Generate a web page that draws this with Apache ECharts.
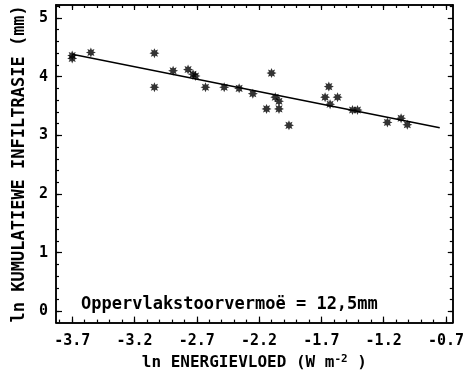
<!DOCTYPE html>
<html>
<head>
<meta charset="utf-8">
<script src="https://cdn.jsdelivr.net/npm/echarts@6/dist/echarts.min.js"></script>
<style>html,body{margin:0;padding:0;background:#fff}#c{width:467px;height:376px}</style>
</head>
<body>
<div id="c"></div>
<script>
// ---- data ----
var xValues = [-3.70, -3.70, -3.55, -3.04, -3.04, -2.89, -2.77, -2.73, -2.71, -2.63, -2.48, -2.36, -2.25, -2.10, -2.14, -2.07, -2.04, -2.04, -1.96, -1.64, -1.67, -1.57, -1.63, -1.45, -1.41, -1.17, -1.06, -1.01];
var yValues = [4.36, 4.31, 4.41, 4.40, 3.82, 4.10, 4.12, 4.04, 4.01, 3.82, 3.82, 3.80, 3.71, 4.06, 3.45, 3.65, 3.58, 3.45, 3.17, 3.83, 3.65, 3.65, 3.53, 3.43, 3.43, 3.22, 3.29, 3.18];
var fitX = [-3.70, -0.75];
var fitY = [4.38, 3.13];
var xTickLabels = [-3.7, -3.2, -2.7, -2.2, -1.7, -1.2, -0.7];
var yTickLabels = [0, 1, 2, 3, 4, 5];
var annotation = 'Oppervlakstoorvermoë = 12,5mm';

var xMin = -3.83, xMax = -0.645, yMin = -0.19, yMax = 5.22;
var xMinor = [], yMinor = [];
for (var i = 0; i <= 31; i++) { xMinor.push(Math.round((-3.8 + i * 0.1) * 10) / 10); }
for (var j = 0; j <= 26; j++) { yMinor.push(Math.round((j * 0.2) * 10) / 10); }

var FONT = 'DejaVu Sans Mono';
var lbl = { color: '#000', fontFamily: FONT, fontWeight: 'bold', fontSize: 15 };
var axLine = { show: true, onZero: false, lineStyle: { color: '#000', width: 1.5 } };

function xAx(pos, ticks, len, labels) {
  return {
    type: 'value', position: pos, min: xMin, max: xMax,
    axisLine: axLine, splitLine: { show: false },
    axisTick: { show: true, inside: true, length: len, customValues: ticks, lineStyle: { color: '#000', width: 1.2 } },
    axisLabel: labels ? Object.assign({ show: true, margin: 11, customValues: xTickLabels, formatter: function (v) { return v.toFixed(1); } }, lbl) : { show: false }
  };
}
function yAx(pos, ticks, len, labels) {
  return {
    type: 'value', position: pos, min: yMin, max: yMax,
    axisLine: axLine, splitLine: { show: false },
    axisTick: { show: true, inside: true, length: len, customValues: ticks, lineStyle: { color: '#000', width: 1.2 } },
    axisLabel: labels ? Object.assign({ show: true, margin: 8, customValues: yTickLabels }, lbl) : { show: false }
  };
}

var xAxes = [xAx('bottom', xTickLabels, 6, true), xAx('bottom', xMinor, 3, false), xAx('top', xTickLabels, 5, false), xAx('top', xMinor, 3, false)];
xAxes[0].name = '{n|ln ENERGIEVLOED (W m}{s|-2}{n| )}';
xAxes[0].nameLocation = 'middle';
xAxes[0].nameGap = 29;
xAxes[0].nameTextStyle = { rich: { n: Object.assign({}, lbl, { fontSize: 16 }), s: Object.assign({}, lbl, { fontSize: 11, verticalAlign: 'top', padding: [0, 0, 8, 0] }) } };

var yAxes = [yAx('left', yTickLabels, 6, true), yAx('left', yMinor, 3, false), yAx('right', yTickLabels, 5, false), yAx('right', yMinor, 3, false)];
yAxes[0].name = 'ln KUMULATIEWE INFILTRASIE (mm)';
yAxes[0].nameLocation = 'middle';
yAxes[0].nameGap = 22;
yAxes[0].nameTextStyle = Object.assign({}, lbl, { fontSize: 17 });

var star = 'path://M2,1 L1.508,1.21 L1.707,1.707 L1.21,1.508 L1,2 L0.79,1.508 L0.293,1.707 L0.492,1.21 L0,1 L0.492,0.79 L0.293,0.293 L0.79,0.492 L1,0 L1.21,0.492 L1.707,0.293 L1.508,0.79 Z';

var chart = echarts.init(document.getElementById('c'), null, { renderer: 'canvas' });
chart.setOption({
  animation: false,
  backgroundColor: '#fff',
  grid: { left: 56, right: 5, top: 5, bottom: 44, containLabel: false },
  xAxis: xAxes,
  yAxis: yAxes,
  series: [
    {
      type: 'scatter', xAxisIndex: 0, yAxisIndex: 0,
      data: xValues.map(function (x, k) { return [x, yValues[k]]; }),
      symbol: star, symbolSize: 10,
      itemStyle: { color: '#000' }
    },
    {
      type: 'line', xAxisIndex: 0, yAxisIndex: 0,
      data: fitX.map(function (x, k) { return [x, fitY[k]]; }),
      symbol: 'none', lineStyle: { color: '#000', width: 1.5 }
    }
  ],
  graphic: [{
    type: 'text', left: 81, top: 296,
    style: { text: annotation, fill: '#000', font: 'bold 17px "DejaVu Sans Mono"' }
  }]
});
</script>
</body>
</html>
